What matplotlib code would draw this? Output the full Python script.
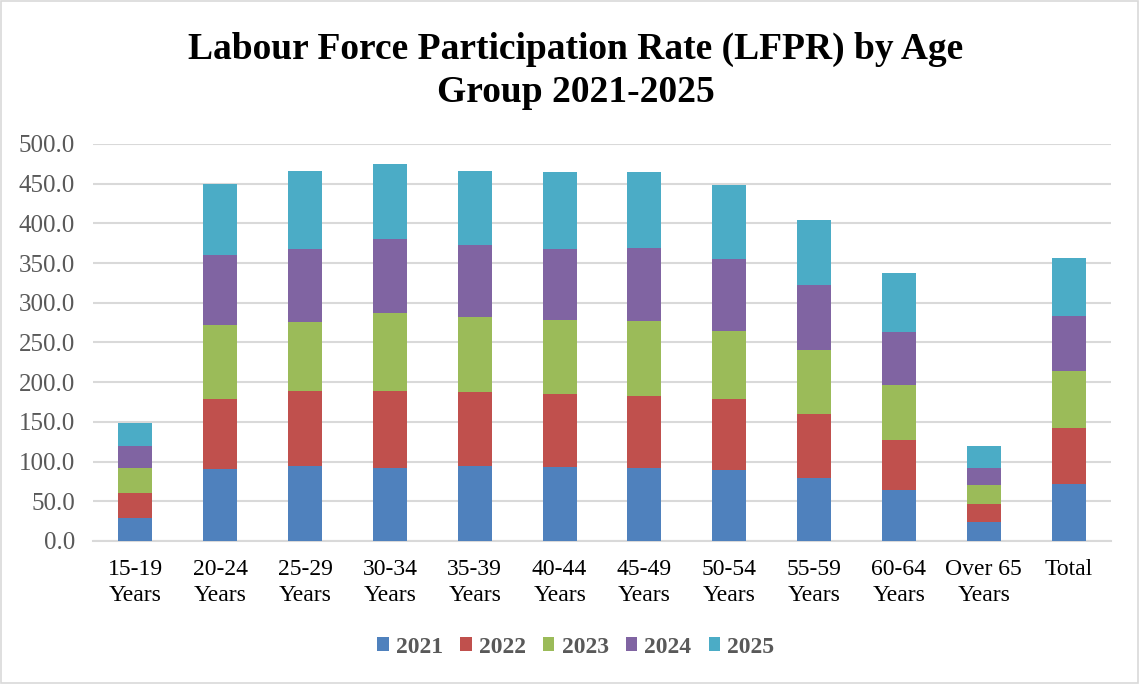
import matplotlib
matplotlib.use("Agg")
import matplotlib.pyplot as plt
import numpy as np
from matplotlib.patches import Rectangle

categories = ["15-19\nYears", "20-24\nYears", "25-29\nYears", "30-34\nYears", "35-39\nYears",
              "40-44\nYears", "45-49\nYears", "50-54\nYears", "55-59\nYears", "60-64\nYears",
              "Over 65\nYears", "Total"]

y2021 = [28.6, 90.4, 95.0, 92.5, 94.6, 93.0, 91.7, 89.1, 79.0, 64.3, 23.6, 72.3]
y2022 = [31.6, 87.8, 93.3, 95.8, 92.5, 92.4, 91.1, 89.1, 81.5, 63.5, 23.4, 70.6]
y2023 = [31.5, 94.2, 87.9, 98.5, 94.9, 92.4, 94.6, 86.6, 80.5, 68.6, 23.6, 71.8]
y2024 = [28.5, 87.5, 91.7, 93.4, 90.3, 90.4, 91.2, 90.4, 81.2, 67.2, 21.8, 68.9]
y2025 = [28.3, 89.1, 97.5, 94.3, 93.1, 96.8, 96.4, 92.8, 82.4, 74.4, 27.0, 73.0]

series_labels = ["2021", "2022", "2023", "2024", "2025"]
series = [y2021, y2022, y2023, y2024, y2025]
colors = ["#4F81BD", "#C0504D", "#9BBB59", "#8064A2", "#4BACC6"]

plt.rcParams['font.family'] = ['Liberation Serif', 'DejaVu Serif']

fig = plt.figure(figsize=(11.4, 6.84), dpi=100)
ax = fig.add_axes([0.0816, 0.2091, 0.8930, 0.5804])

x = np.arange(len(categories))
bottom = np.zeros(len(categories))
handles = []
for lab, vals, c in zip(series_labels, series, colors):
    b = ax.bar(x, vals, width=0.40, bottom=bottom, color=c, label=lab, zorder=3,
               edgecolor='none')
    handles.append(b)
    bottom += np.array(vals)

ax.set_ylim(0, 500)
ax.set_xlim(-0.5, len(categories) - 0.5)
ax.set_yticks(np.arange(0, 501, 50))
ax.set_yticklabels([f"{v:.1f}" for v in np.arange(0, 501, 50)])
ax.yaxis.grid(True, color="#d9d9d9", linewidth=1.5, zorder=0)
ax.set_axisbelow(True)
for s in ["left", "right", "top"]:
    ax.spines[s].set_visible(False)
ax.spines["bottom"].set_color("#d9d9d9")
ax.spines["bottom"].set_linewidth(1.5)
ax.tick_params(axis='y', length=0, labelsize=18, labelcolor="#595959", pad=13)
ax.tick_params(axis='x', length=0, labelsize=17, labelcolor="#000000", pad=13)
ax.set_xticks(x)
ax.set_xticklabels(categories, linespacing=1.3)

fig.text(0.505, 0.896, "Labour Force Participation Rate (LFPR) by Age\nGroup 2021-2025",
         ha='center', va='center', fontsize=27, fontweight='bold', linespacing=1.3)

leg = fig.legend(handles=handles, labels=series_labels, loc='center', bbox_to_anchor=(0.505, 0.054),
                 ncol=5, frameon=False, prop={'size': 17, 'weight': 'bold'},
                 handlelength=0.5, handleheight=0.5, handletextpad=0.3, columnspacing=0.72)
for t in leg.get_texts():
    t.set_color("#595959")

fig.patches.append(Rectangle((0.001, 0.001), 0.997, 0.997, transform=fig.transFigure,
                             fill=False, edgecolor="#d9d9d9", linewidth=1.2))

fig.savefig("out.png", dpi=100)
